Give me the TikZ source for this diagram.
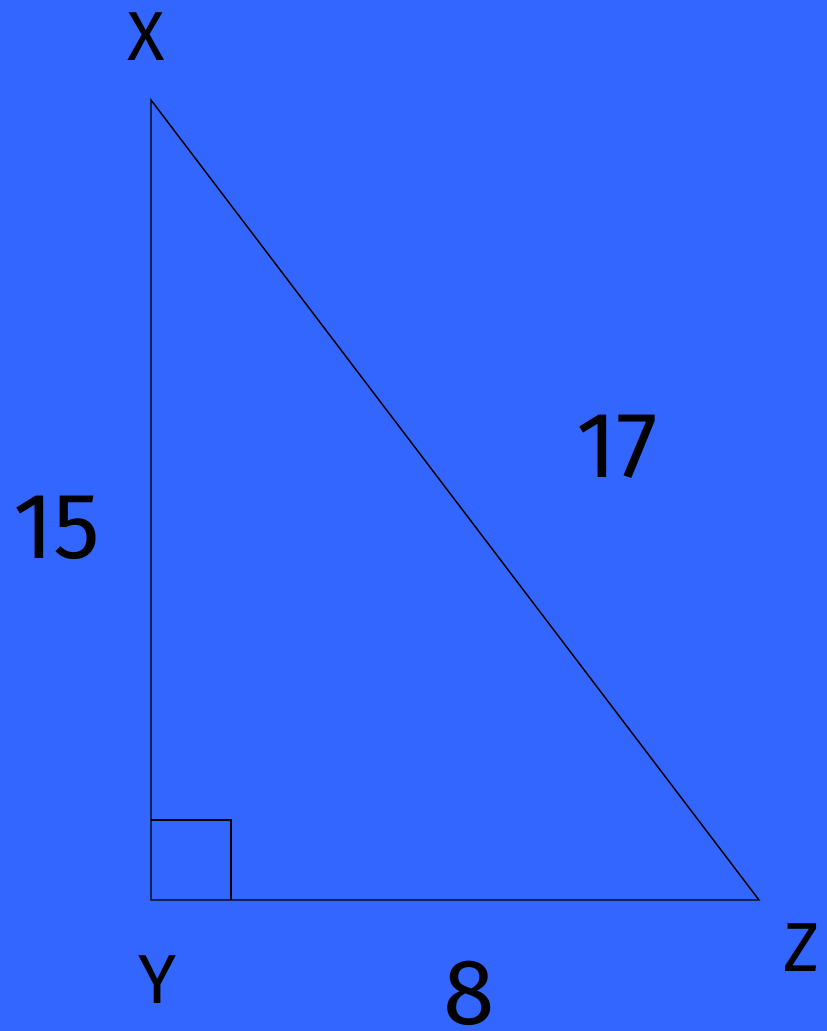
\documentclass[tikz,border=0pt]{standalone}
\usepackage{fontspec}
\setmainfont{Fira Sans}
\usetikzlibrary{positioning}
\definecolor{bgblue}{RGB}{51,102,255}

\begin{document}
\begin{tikzpicture}[x=0.75pt, y=-0.75pt, line width=1.1pt,
	vl/.style={font=\fontsize{52}{60}\selectfont, inner sep=0pt},
	sl/.style={font=\fontsize{70}{80}\selectfont, inner sep=0pt}]
	\fill[bgblue] (0,0) rectangle (827,1031);
	\useasboundingbox (0,0) rectangle (827,1031);

	\coordinate (x) at (151,100);
	\coordinate (y) at (151,900);
	\coordinate (z) at (759,900);

	\draw (x) -- (y) -- (z) -- cycle;
	\draw (y) ++(0,-80) -| ++(80,80);

	\node[vl] (lx) at (146,37) {X};
	\node[vl] (ly) at (158,980) {Y};
	\node[vl] (lz) at (802,948) {Z};

	\node[sl] (a) at (57,528) {15};
	\node[sl] (c) at (617,447) {17};
	\node[sl] (b) at (469,993) {8};
\end{tikzpicture}
\end{document}
